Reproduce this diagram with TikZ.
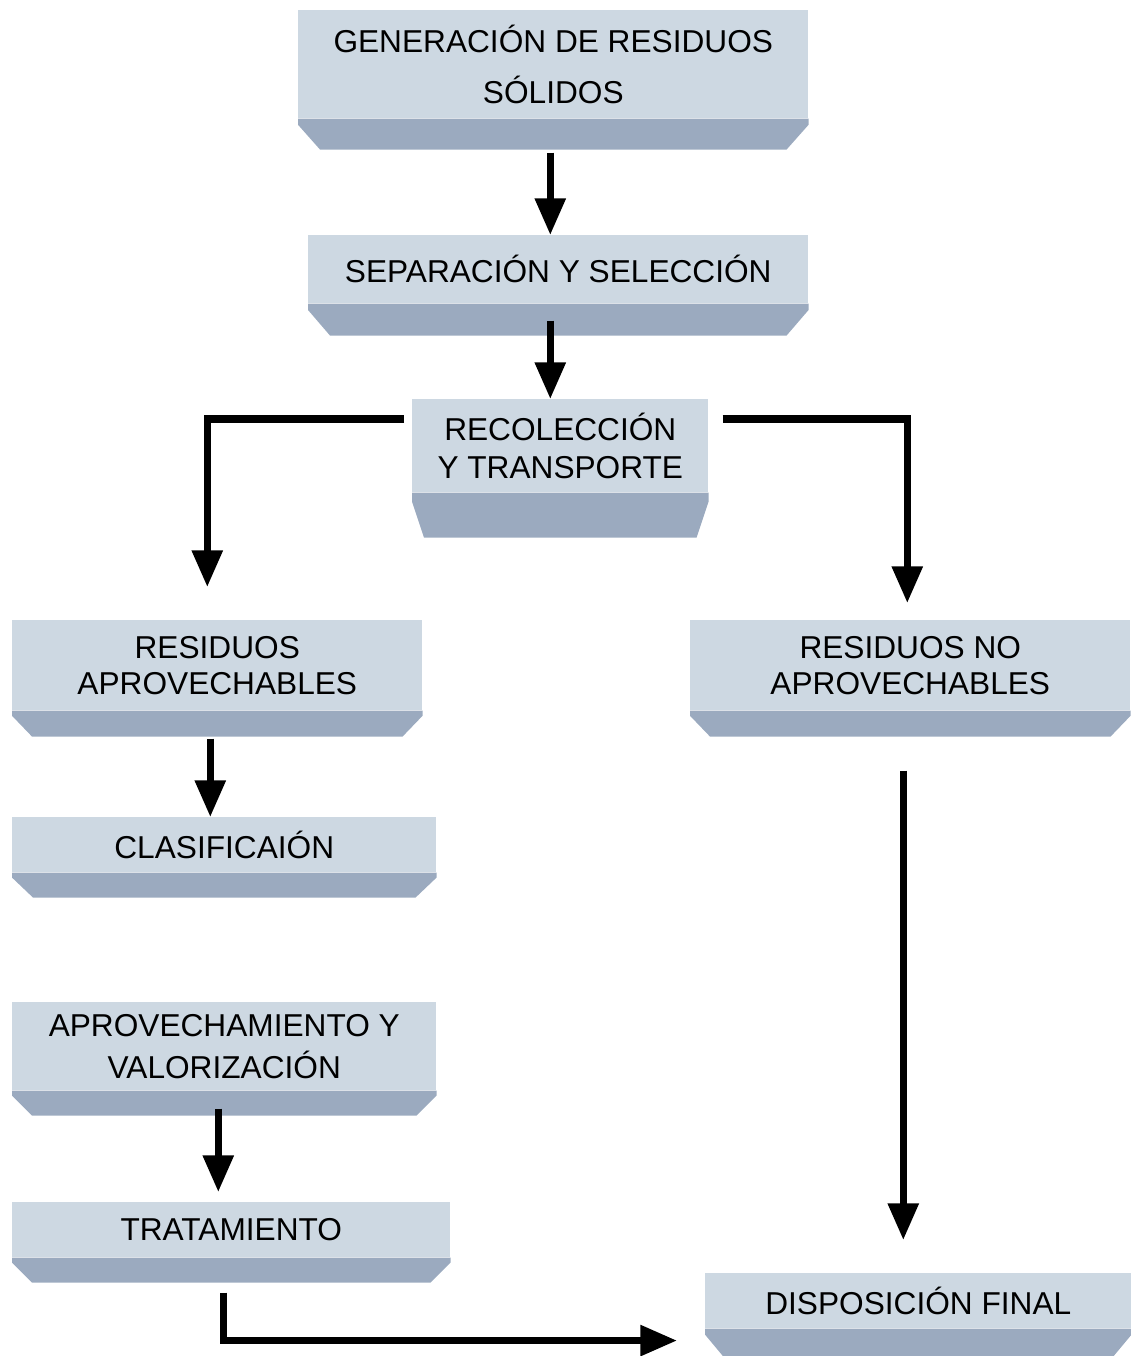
\documentclass[tikz,border=0pt]{standalone}
\usepackage{fontspec}
\setmainfont{Liberation Sans}
\usetikzlibrary{arrows.meta,positioning}
\definecolor{cara}{RGB}{205,216,226}
\definecolor{sombra}{RGB}{155,170,191}
\newcommand{\px}{0.025cm}
\tikzset{
  bloque/.style={fill=cara,anchor=north west,inner sep=0pt,align=center,font=\fontsize{22.5}{27}\selectfont},
  bisel/.style={fill=sombra},
  flecha/.style={-{Triangle[length=26pt,width=21pt]},draw=black,line width=5pt}
}
% canto inferior de cada bloque: nodo, alto, entrada
\newcommand{\bisel}[3]{%
  \fill[bisel] (#1.south west) -- ++(0,{0.2*#2}) -- ([shift={(#3,#2)}]#1.south west)
    -- ([shift={(-#3,#2)}]#1.south east) -- ([shift={(0,{0.2*#2})}]#1.south east)
    -- (#1.south east) -- cycle;}

\begin{document}
\begin{tikzpicture}[x=\px,y=-\px]
  \useasboundingbox (0,0) rectangle (1131,1356);
  \node[bloque,minimum width=510*\px,minimum height=108*\px,font=\fontsize{22.5}{36}\selectfont] (gen) at (298,10) {GENERACIÓN DE RESIDUOS\\SÓLIDOS};
  \node[bloque,minimum width=500*\px,minimum height=68*\px] (sep) at (308,235) {SEPARACIÓN Y SELECCIÓN};
  \node[bloque,minimum width=296*\px,minimum height=93*\px] (rec) at (412,399) {RECOLECCIÓN\\Y TRANSPORTE};
  \node[bloque,minimum width=410*\px,minimum height=90*\px,font=\fontsize{22.5}{25.5}\selectfont] (apr) at (12,620) {RESIDUOS\\APROVECHABLES};
  \node[bloque,minimum width=440*\px,minimum height=90*\px,font=\fontsize{22.5}{25.5}\selectfont] (noapr) at (690,620) {RESIDUOS NO\\APROVECHABLES};
  \node[bloque,minimum width=424*\px,minimum height=55*\px] (cla) at (12,817) {CLASIFICAIÓN};
  \node[bloque,minimum width=424*\px,minimum height=88*\px,font=\fontsize{22.5}{30}\selectfont] (val) at (12,1002) {APROVECHAMIENTO Y\\VALORIZACIÓN};
  \node[bloque,minimum width=438*\px,minimum height=55*\px] (tra) at (12,1202) {TRATAMIENTO};
  \node[bloque,minimum width=426*\px,minimum height=55*\px] (dis) at (705,1273) {DISPOSICIÓN FINAL};

  \bisel{gen}{31}{22}
  \bisel{sep}{32}{22}
  \bisel{rec}{45}{12}
  \bisel{apr}{26}{20}
  \bisel{noapr}{26}{20}
  \bisel{cla}{25}{21}
  \bisel{val}{25}{20}
  \bisel{tra}{25}{20}
  \bisel{dis}{30}{20}

  \draw[flecha] ([shift={(-3,34)}]gen.south) coordinate (f1) -- (f1 |- sep.north);
  \draw[flecha] ([shift={(-8,17)}]sep.south) coordinate (f2) -- (f2 |- rec.north);
  \draw[flecha] ([shift={(-8,20)}]rec.north west) -| ([shift={(-10,-33)}]apr.north);
  \draw[flecha] ([shift={(14,20)}]rec.north east) -| ([shift={(-3,-17)}]noapr.north);
  \draw[flecha] ([shift={(-7,28)}]apr.south) coordinate (f4) -- (f4 |- cla.north);
  \draw[flecha] ([shift={(-7,60)}]noapr.south) -- ([shift={(-15,-33)}]dis.north);
  \draw[flecha] ([shift={(-6,18)}]val.south) -- ([shift={(-13,-10)}]tra.north);
  \draw[flecha] ([shift={(-8,35)}]tra.south) |- ([shift={(-28,12)}]dis.south west);
\end{tikzpicture}
\end{document}
